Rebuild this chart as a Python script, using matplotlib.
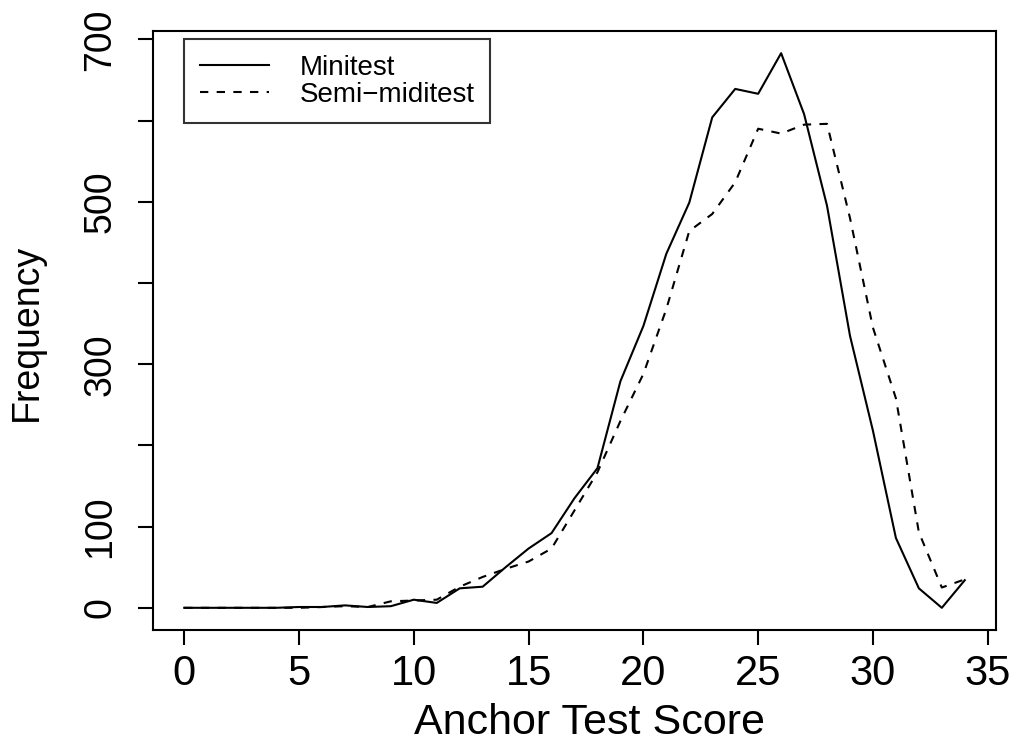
import matplotlib
matplotlib.use("Agg")
import matplotlib.pyplot as plt
import numpy as np

scores = list(range(0, 35))
minitest = [0, 0, 0, 0, 0, 1, 1, 3, 1, 2, 10, 6, 24, 26, 50, 73, 92, 135, 172, 279,
            347, 436, 499, 604, 639, 633, 683, 608, 495, 335, 218, 86, 24, 0, 34]
semimiditest = [0, 0, 0, 0, 0, 0, 1, 2, 1, 8, 9, 10, 26, 38, 48, 57, 73, 120, 167, 230,
                288, 368, 464, 485, 524, 590, 584, 595, 596, 480, 345, 258, 93, 25, 35]
xticks = [0, 5, 10, 15, 20, 25, 30, 35]
yticks = [0, 100, 200, 300, 400, 500, 600, 700]
ytick_labels = ["0", "100", "", "300", "", "500", "", "700"]

plt.rcParams['font.family'] = ['Liberation Sans', 'DejaVu Sans']

W, H = 1014, 748
fig = plt.figure(figsize=(W / 100, H / 100), dpi=100)
L, R, T, B = 153, 996, 31, 630
ax = fig.add_axes([L / W, 1 - B / H, (R - L) / W, (B - T) / H])

ax.plot(scores, minitest, color='black', lw=1.5, label='Minitest')
ax.plot(scores, semimiditest, color='black', lw=1.5, dashes=(4, 4), label='Semi\u2212miditest')

xmin, xmax = min(scores), max(scores)
ymin = 0
ymax = max(max(minitest), max(semimiditest))
dx = 0.04 * (xmax - xmin)
dy = 0.04 * (ymax - ymin)
ax.set_xlim(xmin - dx, xmax + dx)
ax.set_ylim(ymin - dy, ymax + dy)

ax.set_xticks(xticks)
ax.set_xticklabels([str(t) for t in xticks])
ax.set_yticks(yticks)
ax.set_yticklabels(ytick_labels, rotation=90, va='center')

ax.tick_params(axis='both', direction='out', length=11, width=1.5, color='black')
ax.tick_params(axis='x', labelsize=30, pad=6)
ax.tick_params(axis='y', labelsize=27, pad=14)
for s in ax.spines.values():
    s.set_linewidth(1.5)

ax.set_xlabel('Anchor Test Score', fontsize=31)
ax.xaxis.set_label_coords((589 - L) / (R - L), (B - 723) / (B - T))
ax.xaxis.label.set_va('center')
ax.set_ylabel('Frequency', fontsize=27)
ax.yaxis.set_label_coords((27 - L) / (R - L), (B - 332) / (B - T))
ax.yaxis.label.set_va('center')

leg = ax.legend(loc='upper left', bbox_to_anchor=(0, 700), bbox_transform=ax.transData,
                fontsize=20, frameon=True, fancybox=False, borderpad=0.55,
                handlelength=2.5, handletextpad=1.1, labelspacing=0.05, borderaxespad=0)
leg.get_frame().set_edgecolor('black')
leg.get_frame().set_linewidth(1.5)

fig.savefig('out.png', dpi=100)
